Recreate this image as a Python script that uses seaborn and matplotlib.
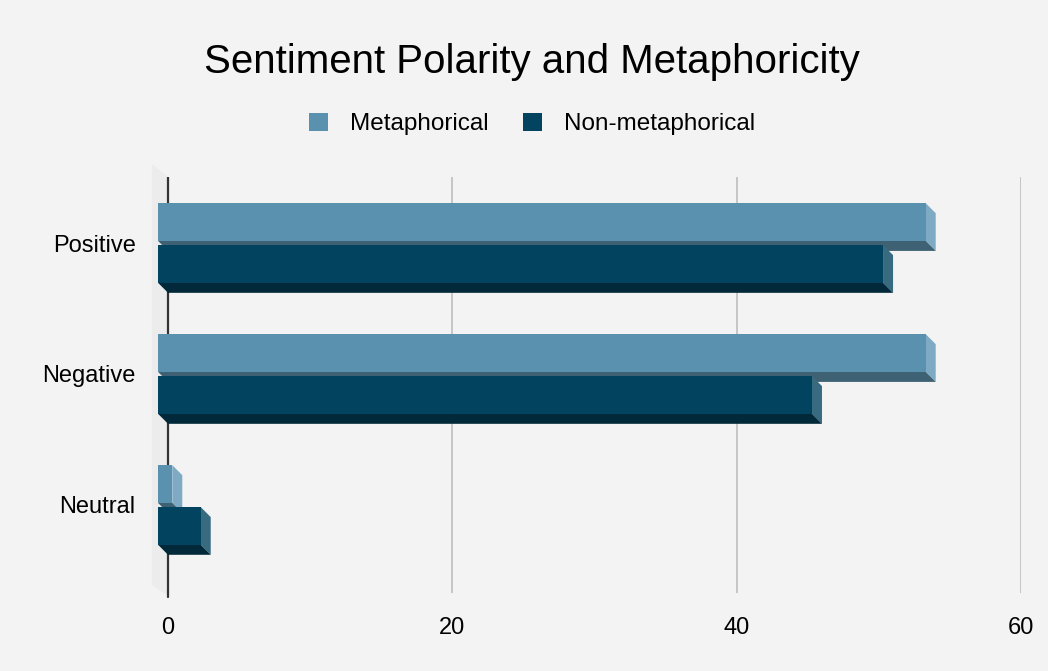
import pandas as pd
import matplotlib.pyplot as plt
import seaborn as sns
from matplotlib.patches import Polygon, Patch

# Data
sentiments = ['Positive', 'Negative', 'Neutral']
series_names = ['Metaphorical', 'Non-metaphorical']
metaphorical = [54, 54, 1]
non_metaphorical = [51, 46, 3]
x_ticks = [0, 20, 40, 60]

# Colours: front face, right side face, bottom face
front_colors = ['#5a91ae', '#02445f']
side_colors = ['#7eaac3', '#386a80']
bottom_colors = ['#3e6273', '#02293a']
bg = '#f3f3f3'

sns.set_style('white')
plt.rcParams['font.family'] = ['Liberation Sans', 'DejaVu Sans']

df = pd.DataFrame({
    'sentiment': sentiments * 2,
    'series': [series_names[0]] * 3 + [series_names[1]] * 3,
    'value': metaphorical + non_metaphorical,
})

W, H = 1048, 671
fig = plt.figure(figsize=(W / 100, H / 100), dpi=100, facecolor=bg)
ax = fig.add_axes([151 / W, 1 - 593 / H, 870 / W, 416 / H])
ax.set_facecolor(bg)

sns.barplot(data=df, x='value', y='sentiment', hue='series', orient='h',
            order=sentiments, hue_order=series_names, palette=front_colors,
            width=0.64, gap=0.1, saturation=1, legend=False, ax=ax)

x_lim = (-1.2, 60)
y_lim = (2.672, -0.504)
ax.set_xlim(*x_lim)
ax.set_ylim(*y_lim)

# depth of the fake 3D extrusion, in pixels -> data units
depth_px = 10
dx = depth_px * (x_lim[1] - x_lim[0]) / 870
dy = depth_px * (y_lim[0] - y_lim[1]) / 416

# left "wall" of the 3D box
wall = Polygon([(-1.13, y_lim[1] - 1.3 * dy), (0, y_lim[1]), (0, y_lim[0] + 0.3 * dy),
                (-1.13, y_lim[0] - 0.8 * dy)],
               closed=True, facecolor='#ececec', edgecolor='none', zorder=0.5, clip_on=False)
ax.add_patch(wall)

for i, cont in enumerate(ax.containers):
    base_z = 2 + i
    for bar in cont:
        x0, w = bar.get_x(), bar.get_width()
        y0, h = bar.get_y(), bar.get_height()
        bar.set_x(x0 - dx)
        bar.set_zorder(base_z + 0.5)
        bar.set_edgecolor('none')
        fx0, fx1 = x0 - dx, x0 - dx + w
        side = Polygon([(fx1, y0), (fx1 + dx, y0 + dy), (fx1 + dx, y0 + h + dy), (fx1, y0 + h)],
                       closed=True, facecolor=side_colors[i], edgecolor='none', zorder=base_z)
        bottom = Polygon([(fx0, y0 + h), (fx1, y0 + h), (fx1 + dx, y0 + h + dy), (fx0 + dx, y0 + h + dy)],
                         closed=True, facecolor=bottom_colors[i], edgecolor='none', zorder=base_z)
        ax.add_patch(side)
        ax.add_patch(bottom)

# grid and zero line
ax.set_xticks(x_ticks)
ax.grid(axis='x', color='#c2c2c2', linewidth=1.3, zorder=0.8)
ax.grid(axis='y', visible=False)
ax.set_axisbelow(True)
ax.axvline(0, color='#333333', linewidth=1.6, zorder=1.5, ymax=1.0)
ax.plot([0, 0], [y_lim[0], y_lim[0] + 0.03], color='#333333', lw=1.6, clip_on=False, zorder=1.5)

for s in ax.spines.values():
    s.set_visible(False)
ax.tick_params(axis='both', length=0, labelsize=17, colors='#000000')
ax.tick_params(axis='x', pad=17)
ax.tick_params(axis='y', pad=11)
ax.set_xlabel('')
ax.set_ylabel('')

fig.text(532 / W, 1 - 62 / H, 'Sentiment Polarity and Metaphoricity',
         ha='center', va='center', fontsize=29, color='#000000')

handles = [Patch(facecolor=c, edgecolor='none') for c in front_colors]
fig.legend(handles, series_names, loc='center', bbox_to_anchor=(532 / W, 1 - 124 / H),
           ncol=2, frameon=False, fontsize=17.5, handlelength=0.8, handleheight=0.8,
           columnspacing=1.4, handletextpad=0.9, labelcolor='#000000')

fig.savefig('out.png', dpi=100, facecolor=bg)
